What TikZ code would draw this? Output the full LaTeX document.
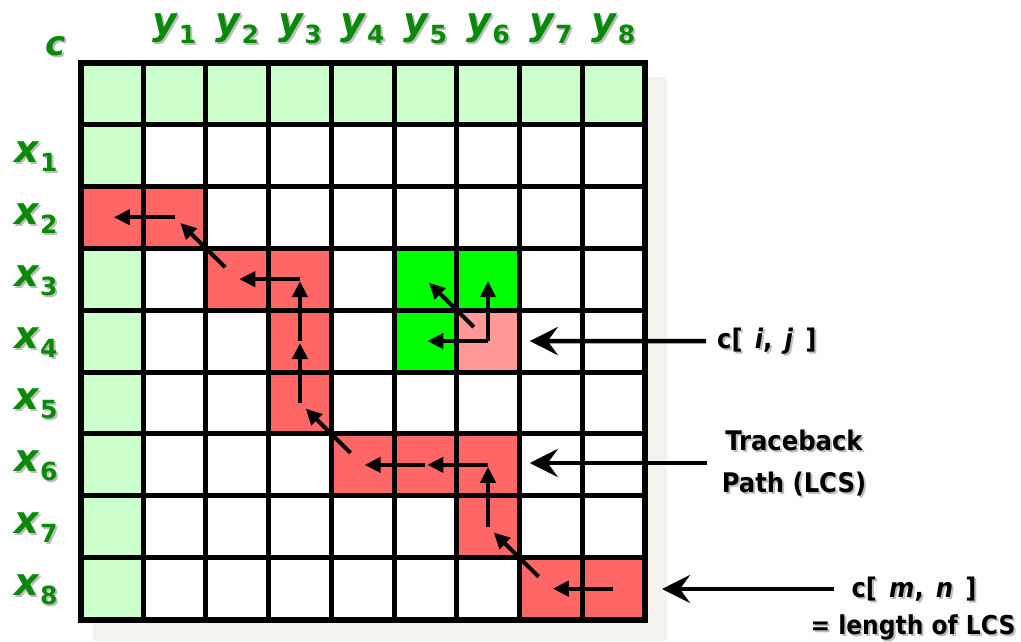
\documentclass[tikz,border=0pt]{standalone}
\usepackage{fontspec}
\setmainfont{DejaVu Sans Condensed}
\newfontfamily\seqfont{DejaVu Sans}
\usetikzlibrary{arrows.meta}

\definecolor{hdrcell}{HTML}{CCFFCC}
\definecolor{pathcell}{HTML}{FF6666}
\definecolor{nbrcell}{HTML}{00FF00}
\definecolor{curcell}{HTML}{FF9999}
\definecolor{seqgreen}{HTML}{088A08}
\definecolor{textshade}{HTML}{BDBDBD}
\definecolor{boxshade}{HTML}{F4F2EC}

% sequence label: italic letter with an upright subscript digit
\newcommand\seqlab[2]{\textit{#1}\raisebox{-9pt}{\fontsize{25}{25}\selectfont #2}}
% wider word gap for the index notes
\newcommand\gap{\hspace{0.45em}}

\tikzset{
  gridline/.style={line width=5pt, line cap=rect},
  trace/.style={line width=4pt, -{Triangle[length=16pt,width=15pt]}},
  pointer/.style={line width=4.5pt, -{Stealth[length=28pt,width=28pt,inset=10pt]}},
  seqtext/.style={font=\seqfont\fontsize{38}{38}\selectfont\bfseries, text=seqgreen, inner sep=0pt, anchor=base},
  seqshade/.style={font=\seqfont\fontsize{38}{38}\selectfont\bfseries, text=textshade, inner sep=0pt, anchor=base},
  notetext/.style={font=\fontsize{27}{42}\selectfont\bfseries, text=black, align=center, inner ysep=0pt},
  noteshade/.style={font=\fontsize{27}{42}\selectfont\bfseries, text=textshade, align=center, inner ysep=0pt},
}

\begin{document}
\begin{tikzpicture}[x=1pt, y=-1pt]
\useasboundingbox (0,0) rectangle (1021,641);

% soft drop shadow behind the table
\fill[boxshade] (93,77) rectangle (667,641);

% cell centres
\foreach \r in {0,...,8}
  \foreach \c in {0,...,8}
    \coordinate (m-\r-\c) at ({80.5+62.7*(\c+0.5)},{62.5+61.9*(\r+0.5)});

% white body
\fill[white] (80.5,62.5) rectangle (644.8,619.6);

% header row and column
\foreach \c in {0,...,8}
  \fill[hdrcell] ({80.5+62.7*\c},62.5) rectangle ({80.5+62.7*(\c+1)},124.4);
\foreach \r in {1,3,4,5,6,7,8}
  \fill[hdrcell] (80.5,{62.5+61.9*\r}) rectangle (143.2,{62.5+61.9*(\r+1)});

% traceback cells
\foreach \r/\c in {2/0,2/1,3/2,3/3,4/3,5/3,6/4,6/5,6/6,7/6,8/7,8/8}
  \fill[pathcell] ({80.5+62.7*\c},{62.5+61.9*\r}) rectangle ({80.5+62.7*(\c+1)},{62.5+61.9*(\r+1)});

% c[i,j] and the three cells it depends on
\foreach \r/\c in {3/5,3/6,4/5}
  \fill[nbrcell] ({80.5+62.7*\c},{62.5+61.9*\r}) rectangle ({80.5+62.7*(\c+1)},{62.5+61.9*(\r+1)});
\fill[curcell] ({80.5+62.7*6},{62.5+61.9*4}) rectangle ({80.5+62.7*7},{62.5+61.9*5});

% grid lines
\foreach \i in {0,...,9} {
  \draw[gridline] ({80.5+62.7*\i},62.5) -- ({80.5+62.7*\i},619.6);
  \draw[gridline] (80.5,{62.5+61.9*\i}) -- (644.8,{62.5+61.9*\i});
}
\draw[line width=6pt] (80.5,62.5) rectangle (644.8,619.6);

% traceback path
\draw[trace, shorten >=2pt] (m-8-8) -- (m-8-7);
\draw[trace, shorten <=17pt, shorten >=8pt] (m-8-7) -- (m-7-6);
\draw[trace, shorten >=2pt] (m-7-6) -- (m-6-6);
\draw[trace, shorten >=2pt] (m-6-6) -- (m-6-5);
\draw[trace, shorten >=2pt] (m-6-5) -- (m-6-4);
\draw[trace, shorten <=17pt, shorten >=8pt] (m-6-4) -- (m-5-3);
\draw[trace, shorten >=2pt] (m-5-3) -- (m-4-3);
\draw[trace, shorten >=2pt] (m-4-3) -- (m-3-3);
\draw[trace, shorten >=2pt] (m-3-3) -- (m-3-2);
\draw[trace, shorten <=17pt, shorten >=8pt] (m-3-2) -- (m-2-1);
\draw[trace, shorten >=2pt] (m-2-1) -- (m-2-0);

% dependencies of c[i,j]
\draw[trace, shorten <=20pt, shorten >=5pt] (m-4-6) -- (m-3-5);
\draw[trace, shorten >=2pt] (m-4-6) -- (m-3-6);
\draw[trace, shorten >=2pt] (m-4-6) -- (m-4-5);

% axis labels
\node[seqshade, font=\seqfont\fontsize{34}{34}\selectfont\bfseries] at (58,57) {\textit{c}};
\node[seqtext, font=\seqfont\fontsize{34}{34}\selectfont\bfseries] (lc) at (56,55) {\textit{c}};
\foreach \k in {1,...,8} {
  \node[seqshade] at ({80.5+62.7*(\k+0.5)+2},36) {\seqlab{y}{\k}};
  \node[seqtext] (ly\k) at ({80.5+62.7*(\k+0.5)},34) {\seqlab{y}{\k}};
  \node[seqshade] at (38,{62.5+61.9*(\k+0.5)+9}) {\seqlab{x}{\k}};
  \node[seqtext] (lx\k) at (36,{62.5+61.9*(\k+0.5)+7}) {\seqlab{x}{\k}};
}

% side notes
\node[noteshade, anchor=west, inner xsep=11pt] at (708,343) {c[\gap\textit{i},\gap\textit{j}\gap]};
\node[notetext, anchor=west, inner xsep=11pt] (nij) at (706,341) {c[\gap\textit{i},\gap\textit{j}\gap]};
\draw[pointer, shorten >=-21pt] (nij.west) -- (m-4-7);

\node[noteshade, inner xsep=15pt] at (796,465) {Traceback\\Path (LCS)};
\node[notetext, inner xsep=15pt] (ntb) at (794,463) {Traceback\\Path (LCS)};
\draw[pointer, shorten >=-21pt] (ntb.west) -- (ntb.west -| m-6-7);

\coordinate (pmn) at (662,589);
\node[noteshade, inner xsep=17pt] at (916,591) {c[\gap\textit{m},\gap\textit{n}\gap]};
\node[notetext, inner xsep=17pt] (nmn) at (914,589) {c[\gap\textit{m},\gap\textit{n}\gap]};
\draw[pointer] (nmn.west) -- (pmn);
\node[noteshade, font=\fontsize{26}{30}\selectfont\bfseries] at (915,629) {= length of LCS};
\node[notetext, font=\fontsize{26}{30}\selectfont\bfseries] (nlen) at (913,627) {= length of LCS};
\end{tikzpicture}
\end{document}
